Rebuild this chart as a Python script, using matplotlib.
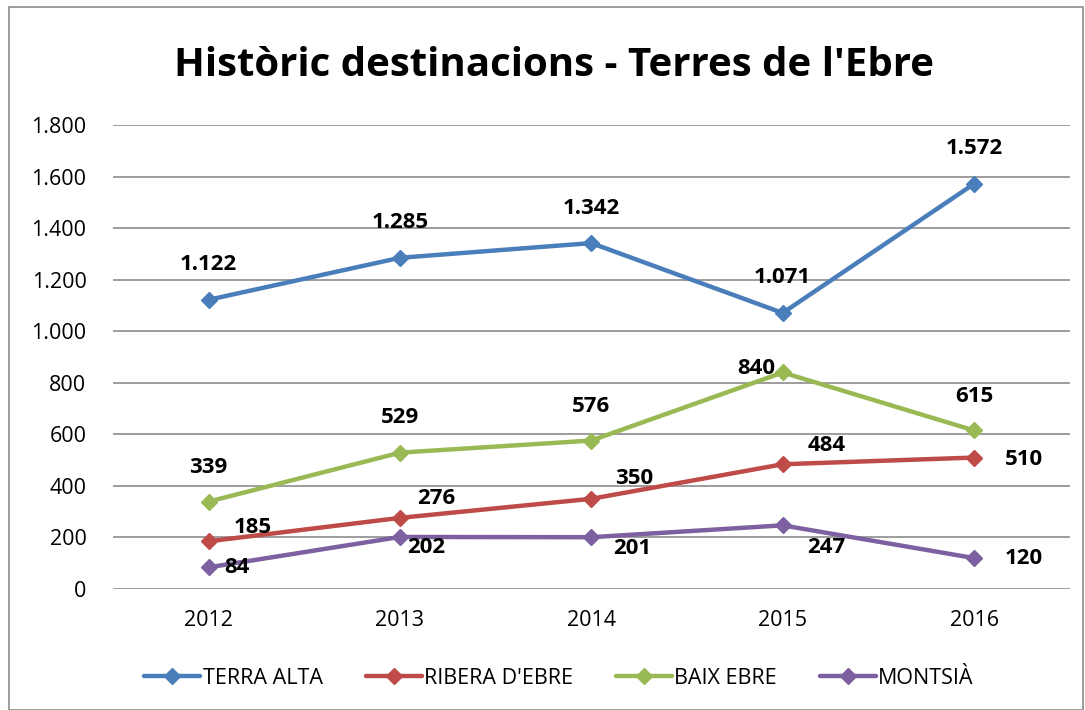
import matplotlib.pyplot as plt
from matplotlib.ticker import FuncFormatter
from matplotlib.patches import Rectangle

years = ['2012', '2013', '2014', '2015', '2016']
terra_alta = [1122, 1285, 1342, 1071, 1572]
ribera_ebre = [185, 276, 350, 484, 510]
baix_ebre = [339, 529, 576, 840, 615]
montsia = [84, 202, 201, 247, 120]

names = ['TERRA ALTA', "RIBERA D'EBRE", 'BAIX EBRE', 'MONTSIÀ']
colors = ['#4A7EBB', '#BE4B48', '#98B954', '#7D60A0']

# label offsets in pixels for each series/point
offsets = [
    [(0, 35)] * 5,
    [(44, 14), (36, 19), (43, 20), (44, 19), (50, -2)],
    [(0, 34), (0, 35), (0, 34), (-26, 4), (0, 34)],
    [(28, 0), (26, -11), (41, -11), (44, -22), (50, 0)],
]

plt.rcParams['font.family'] = ['Open Sans', 'DejaVu Sans']

fig = plt.figure(figsize=(10.85, 7.10), dpi=100)
ax = fig.add_axes([0.104, 0.1704, 0.882, 0.6535])

x = list(range(len(years)))
series = [terra_alta, ribera_ebre, baix_ebre, montsia]
for vals, name, col, offs in zip(series, names, colors, offsets):
    ax.plot(x, vals, color=col, lw=3.2, marker='D', markersize=8.5, label=name,
            solid_capstyle='round', zorder=3)
    for xi, v, off in zip(x, vals, offs):
        ax.annotate(f'{v:,}'.replace(',', '.'), (xi, v), xytext=off,
                    textcoords='offset pixels', ha='center', va='center',
                    fontsize=16, fontweight='bold', color='black', zorder=4)

ax.set_xlim(-0.5, 4.5)
ax.set_ylim(0, 1800)
ax.set_yticks(range(0, 1801, 200))
ax.yaxis.set_major_formatter(FuncFormatter(lambda v, p: f'{int(v):,}'.replace(',', '.')))
ax.set_xticks(x)
ax.set_xticklabels(years)
ax.tick_params(axis='both', length=0, labelsize=15.5)
ax.tick_params(axis='y', pad=19)
ax.tick_params(axis='x', pad=15)
ax.grid(axis='y', color='#8c8c8c', lw=1.2)
ax.set_axisbelow(True)
for s in ax.spines.values():
    s.set_visible(False)

fig.text(0.511, 0.908, "Històric destinacions - Terres de l'Ebre",
         ha='center', va='center', fontsize=29, fontweight='bold')

fig.legend(loc='center', bbox_to_anchor=(0.515, 0.045), ncol=4, frameon=False,
           fontsize=15.5, handlelength=2.6, columnspacing=2.0, handletextpad=0.1)

fig.patches.append(Rectangle((0.008, 0.0), 0.99, 0.99, transform=fig.transFigure,
                             fill=False, edgecolor='#8c8c8c', lw=1.2))

fig.savefig('out.png', dpi=100)
